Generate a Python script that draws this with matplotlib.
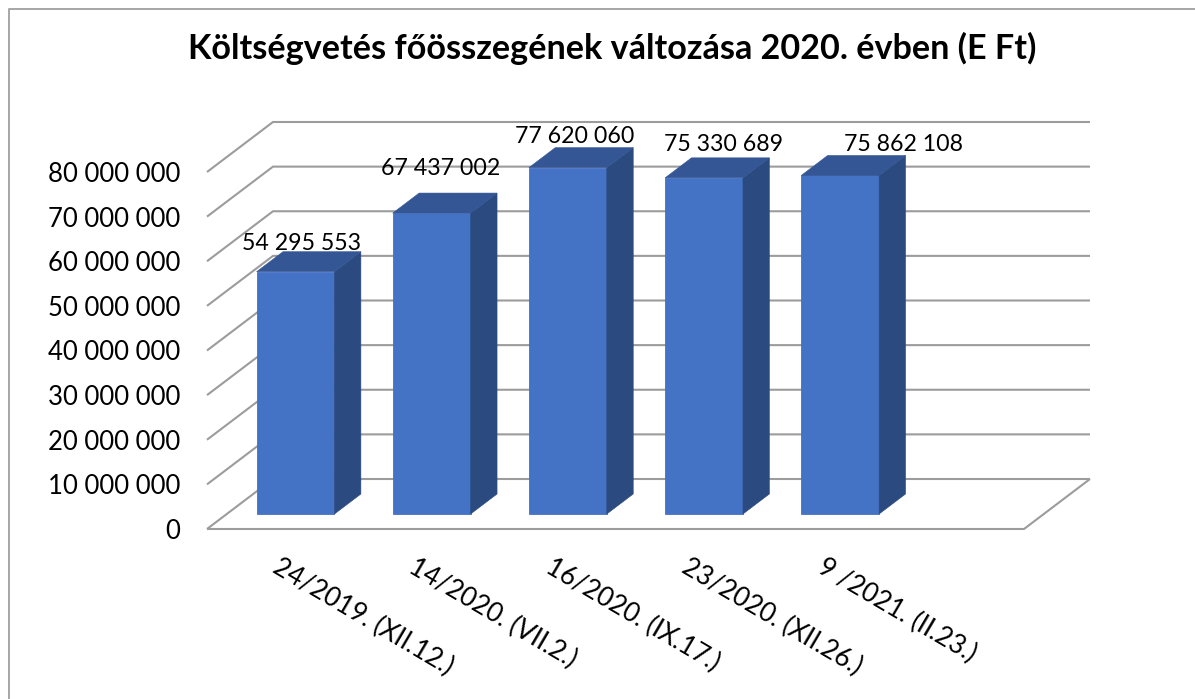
#!/usr/bin/env python
import numpy as np
import matplotlib
matplotlib.use('Agg')
import matplotlib.pyplot as plt

plt.rcParams['font.family'] = ['Lato', 'DejaVu Sans']

title = 'Költségvetés főösszegének változása 2020. évben (E Ft)'
categories = ['24/2019. (XII.12.)', '14/2020. (VII.2.)', '16/2020. (IX.17.)',
              '23/2020. (XII.26.)', '9 /2021. (II.23.)']
values = [54295553, 67437002, 77620060, 75330689, 75862108]
value_labels = ['54 295 553', '67 437 002', '77 620 060', '75 330 689', '75 862 108']
y_ticks = [0, 10000000, 20000000, 30000000, 40000000, 50000000, 60000000, 70000000, 80000000]
y_tick_labels = ['0', '10 000 000', '20 000 000', '30 000 000', '40 000 000',
                 '50 000 000', '60 000 000', '70 000 000', '80 000 000']

# oblique depth of the fake 3d box, in axis units
depth_x = 66 / 136.17
depth_y = 50 / 44.625 * 1e7
half_w = 0.286
grid_col = '#9c9c9c'

W, H = 1195, 699
fig = plt.figure(figsize=(W / 100, H / 100), dpi=100)
ax = fig.add_axes([207 / W, (H - 529) / H, 817 / W, 357 / H])
ax.set_xlim(-0.5, 5.5)
ax.set_ylim(0, 80000000)
for s in ax.spines.values():
    s.set_visible(False)
ax.patch.set_visible(False)

# outer frame of the picture, open to the right and bottom
fig.add_artist(plt.Line2D([9 / W, 9 / W, 1], [0, 1 - 9 / H, 1 - 9 / H], color='#a6a6a6', lw=1.4))

x0, x1 = -0.5, 5.5
for v in y_ticks:
    ax.plot([x0, x0 + depth_x, x1 + depth_x], [v, v + depth_y, v + depth_y], color=grid_col, lw=1.5,
            clip_on=False, zorder=1, solid_joinstyle='miter', solid_capstyle='butt')
ax.plot([x0, x1, x1 + depth_x], [0, 0, depth_y], color=grid_col, lw=1.5, clip_on=False, zorder=1,
        solid_capstyle='butt')

# label offsets in pixels from the top back edge of each bar
label_dx = [-7, -4, -6, 6, 50]
label_dy = [-2, 14, 1, 3, 0]

for i, v in enumerate(values):
    xl = i - half_w + 0.31 * depth_x
    xr = i + half_w + 0.31 * depth_x
    yb = 0.3 * depth_y
    yt = yb + v
    dx = 0.4 * depth_x
    dy = 0.4 * depth_y
    ax.fill([xl, xr, xr, xl], [yb, yb, yt, yt], color='#4472c4', lw=0.6, clip_on=False, zorder=3)
    ax.fill([xr, xr + dx, xr + dx, xr], [yb, yb + dy, yt + dy, yt], color='#2b4a80', lw=0.4, clip_on=False, zorder=3)
    ax.fill([xl, xr, xr + dx, xl + dx], [yt, yt, yt + dy, yt + dy], color='#345694', lw=0.4, clip_on=False, zorder=3)
    ax.annotate(value_labels[i], xy=((xl + xr + dx) / 2, yt + dy), xytext=(label_dx[i], label_dy[i]),
                textcoords='offset pixels', ha='center', va='bottom', fontsize=16.7, color='black',
                zorder=5, annotation_clip=False)

ax.set_yticks(y_ticks)
ax.set_yticklabels(y_tick_labels, fontsize=18.5)
ax.tick_params(axis='y', length=0, pad=19)
ax.set_xticks(range(len(categories)))
ax.set_xticklabels(categories, fontsize=18.9, rotation=-30.5, ha='left', va='center', rotation_mode='anchor')
ax.tick_params(axis='x', length=0, pad=26)

fig.text(612 / W, 1 - 48 / H, title, ha='center', va='center', fontsize=24.6, fontweight='bold', color='black')

fig.savefig('out.png', dpi=100)
